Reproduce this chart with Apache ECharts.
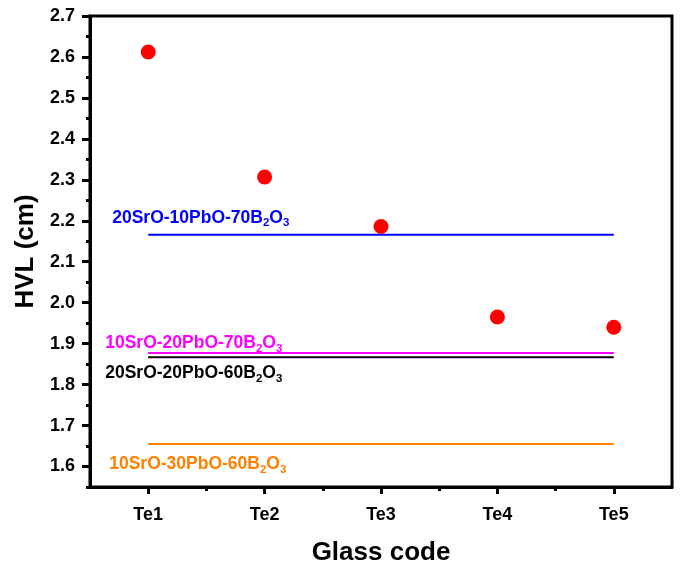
<!DOCTYPE html>
<html>
<head>
<meta charset="utf-8">
<script src="https://cdn.jsdelivr.net/npm/echarts@6/dist/echarts.min.js"></script>
<style>
  html, body { margin: 0; padding: 0; background: #fff; }
  #chart { width: 680px; height: 568px; }
</style>
</head>
<body>
<div id="chart"></div>
<script>
// Glass samples and their half value layer (cm)
const categories = ['Te1', 'Te2', 'Te3', 'Te4', 'Te5'];
const hvl = [2.612, 2.307, 2.186, 1.965, 1.940];

// Reference borate glasses drawn as horizontal lines
const refFormulas = [
  ['20SrO-10PbO-70B', '2', 'O', '3'],
  ['10SrO-20PbO-70B', '2', 'O', '3'],
  ['20SrO-20PbO-60B', '2', 'O', '3'],
  ['10SrO-30PbO-60B', '2', 'O', '3']
];
const refValues = [2.166, 1.877, 1.867, 1.655];
const refColors = ['#0000FF', '#FF00FF', '#000000', '#FF8000'];

// Axis ticks
const xMajorTicks = [1, 2, 3, 4, 5];
const xMinorTicks = [1.5, 2.5, 3.5, 4.5];
const yMajorTicks = [1.6, 1.7, 1.8, 1.9, 2.0, 2.1, 2.2, 2.3, 2.4, 2.5, 2.6, 2.7];
const yMinorTicks = [1.55, 1.65, 1.75, 1.85, 1.95, 2.05, 2.15, 2.25, 2.35, 2.45, 2.55, 2.65];

const FONT = '"Liberation Sans", Arial, Helvetica, sans-serif';

// label placement per reference line: above or below, plus shift
const refLabelPos = [
  { position: 'top', offset: [-36, -2] },
  { position: 'top', offset: [-43, 5] },
  { position: 'bottom', offset: [-43, 1] },
  { position: 'bottom', offset: [-39, 5] }
];

function richFor(color) {
  return {
    a: { fontFamily: FONT, fontWeight: 'bold', fontSize: 17.5, color: color, lineHeight: 20 },
    s: { fontFamily: FONT, fontWeight: 'bold', fontSize: 11.5, color: color, lineHeight: 20, padding: [11, 0, 0, 0] }
  };
}

const refSeries = refValues.map((v, i) => {
  const f = refFormulas[i];
  return {
    type: 'line',
    data: [
      {
        value: [1, v],
        label: {
          show: true,
          position: refLabelPos[i].position,
          offset: refLabelPos[i].offset,
          align: 'left',
          formatter: '{a|' + f[0] + '}{s|' + f[1] + '}{a|' + f[2] + '}{s|' + f[3] + '}',
          rich: richFor(refColors[i])
        }
      },
      [5, v]
    ],
    symbol: 'circle',
    symbolSize: 0,
    showSymbol: true,
    lineStyle: { color: refColors[i], width: 2 },
    itemStyle: { color: refColors[i] },
    silent: true,
    animation: false,
    z: 2
  };
});

const chart = echarts.init(document.getElementById('chart'), null, { renderer: 'canvas' });

chart.setOption({
  animation: false,
  backgroundColor: '#fff',
  grid: {
    left: 90, right: 8, top: 16, bottom: 81,
    outerBoundsMode: 'none',
    show: true, borderColor: '#000', borderWidth: 3, backgroundColor: 'transparent'
  },
  xAxis: [
    {
      type: 'value', min: 0.5, max: 5.5,
      name: 'Glass code', nameLocation: 'middle', nameGap: 53,
      nameTextStyle: { fontFamily: FONT, fontWeight: 'bold', fontSize: 26, color: '#000' },
      axisLine: { show: true, onZero: false, lineStyle: { color: '#000', width: 3 } },
      axisTick: { show: true, customValues: xMajorTicks, length: 7, lineStyle: { color: '#000', width: 3 } },
      axisLabel: {
        customValues: xMajorTicks, margin: 19,
        fontFamily: FONT, fontWeight: 'bold', fontSize: 18, color: '#000',
        formatter: (v) => categories[Math.round(v) - 1]
      },
      splitLine: { show: false }
    },
    {
      type: 'value', min: 0.5, max: 5.5, position: 'bottom',
      axisLine: { show: false, onZero: false },
      axisTick: { show: true, customValues: xMinorTicks, length: 4, lineStyle: { color: '#000', width: 3 } },
      axisLabel: { show: false },
      splitLine: { show: false }
    }
  ],
  yAxis: [
    {
      type: 'value', min: 1.55, max: 2.7,
      name: 'HVL (cm)', nameLocation: 'middle', nameGap: 49, nameRotate: 90,
      nameTextStyle: { fontFamily: FONT, fontWeight: 'bold', fontSize: 26, color: '#000' },
      axisLine: { show: true, onZero: false, lineStyle: { color: '#000', width: 3 } },
      axisTick: { show: true, customValues: yMajorTicks, length: 8, lineStyle: { color: '#000', width: 3 } },
      axisLabel: {
        customValues: yMajorTicks, margin: 15,
        fontFamily: FONT, fontWeight: 'bold', fontSize: 18, color: '#000',
        formatter: (v) => v.toFixed(1)
      },
      splitLine: { show: false }
    },
    {
      type: 'value', min: 1.55, max: 2.7, position: 'left',
      axisLine: { show: false, onZero: false },
      axisTick: { show: true, customValues: yMinorTicks, length: 4, lineStyle: { color: '#000', width: 3 } },
      axisLabel: { show: false },
      splitLine: { show: false }
    }
  ],
  series: [
    ...refSeries,
    {
      type: 'scatter',
      data: hvl.map((v, i) => [i + 1, v]),
      symbol: 'circle',
      symbolSize: 15,
      itemStyle: { color: '#FF0000', opacity: 1 },
      z: 5
    }
  ]
});
</script>
</body>
</html>
